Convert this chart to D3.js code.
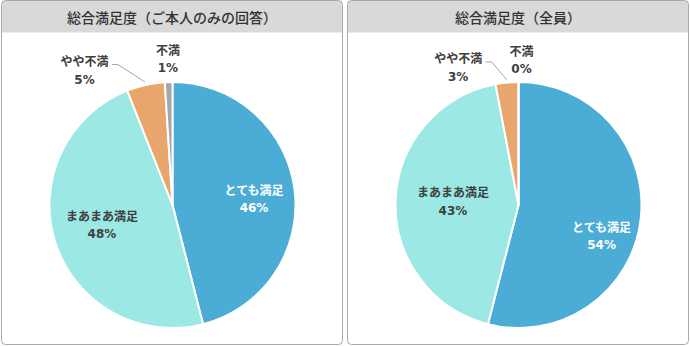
<!DOCTYPE html>
<html>
<head>
<meta charset="utf-8">
<script src="https://cdn.jsdelivr.net/npm/d3@7/dist/d3.min.js"></script>
<style>
  html, body { margin: 0; padding: 0; background: #fff; }
  svg { display: block; font-family: "Noto Sans CJK JP", "Noto Sans", sans-serif; }
  .pct { font-family: "DejaVu Sans", "Noto Sans CJK JP", sans-serif; }
</style>
</head>
<body>
<svg id="chart" width="690" height="346"></svg>
<script>
// Satisfaction categories, drawn clockwise from 12 o'clock
const categories = ["とても満足", "まあまあ満足", "やや不満", "不満"];
const titles = ["総合満足度（ご本人のみの回答）", "総合満足度（全員）"];
// Percent shares per panel
const valuesSelf = [46, 48, 5, 1];
const valuesAll = [54, 43, 3, 0];

const colors = ["#4BACD6", "#9BE8E4", "#E8A56C", "#A6A6A6"];
const textColors = ["#ffffff", "#404040", "#404040", "#404040"];

// Label placement: [radius factor, angle nudge (deg), dx, dy] per slice
const labelLayout = [
  [[0.66, 0, 1, 4], [0.62, 0, 2, -4], [1.31, -20.5, 0, 0], [1.19, 0, 0, 0]],
  [[0.72, 13, 0, 0], [0.533, 0, 0, -1.5], [1.221, -18.3, 0, 0], [1.18, 0, 3, 0]]
];

const svg = d3.select("#chart");
const panelW = 341, panelH = 344, gap = 5, titleH = 32;
const radius = 123;

const pie = d3.pie().sort(null).value(d => d);
const arc = d3.arc().innerRadius(0).outerRadius(radius);

[valuesSelf, valuesAll].forEach((vals, pi) => {
  const x0 = 1.5 + pi * (panelW + gap);
  const g = svg.append("g").attr("transform", `translate(${x0},0.5)`);

  const clipId = "clip" + pi;
  g.append("clipPath").attr("id", clipId)
    .append("rect").attr("width", panelW).attr("height", panelH).attr("rx", 4);

  g.append("rect").attr("width", panelW).attr("height", panelH).attr("rx", 4)
    .attr("fill", "#fff");
  g.append("rect").attr("width", panelW).attr("height", titleH)
    .attr("fill", "#D9D9D9").attr("clip-path", `url(#${clipId})`);
  g.append("rect").attr("width", panelW).attr("height", panelH).attr("rx", 4)
    .attr("fill", "none").attr("stroke", "#A9A9A9").attr("stroke-width", 1);

  g.append("text").attr("x", panelW / 2).attr("y", 16)
    .attr("text-anchor", "middle").attr("dominant-baseline", "central")
    .attr("font-size", 14).attr("fill", "#333").attr("font-weight", 500)
    .text(titles[pi]);

  const cx = panelW / 2 + 0.5, cy = 204.5;
  const pg = g.append("g").attr("transform", `translate(${cx},${cy})`);
  const arcs = pie(vals);

  pg.selectAll("path.slice").data(arcs).join("path")
    .attr("class", "slice")
    .attr("d", arc)
    .attr("fill", (d, i) => colors[i])
    .attr("stroke", "#fff").attr("stroke-width", 2).attr("stroke-linejoin", "round");

  arcs.forEach((d, i) => {
    const [rf, nudge, dx, dy] = labelLayout[pi][i];
    const mid = (d.startAngle + d.endAngle) / 2;
    const a = mid + nudge * Math.PI / 180;
    const lx = Math.sin(a) * radius * rf + dx;
    const ly = -Math.cos(a) * radius * rf + dy;
    const t = pg.append("text").attr("text-anchor", "middle")
      .attr("font-size", 12).attr("font-weight", 700).attr("fill", textColors[i]);
    t.append("tspan").attr("x", lx).attr("y", ly - 4).text(categories[i]);
    t.append("tspan").attr("class", "pct").attr("x", lx).attr("y", ly + 13.5)
      .text(vals[i] + "%");

    // leader line for the small outer slice that sits away from its label
    if (i === 2) {
      const ex = Math.sin(mid) * (radius + 3), ey = -Math.cos(mid) * (radius + 3);
      const sx = lx + 27.5, sy = ly - 5.5;
      pg.append("polyline")
        .attr("points", `${sx},${sy} ${sx + 6},${sy} ${ex},${ey}`)
        .attr("fill", "none").attr("stroke", "#A6A6A6").attr("stroke-width", 1);
    }
  });
});
</script>
</body>
</html>
